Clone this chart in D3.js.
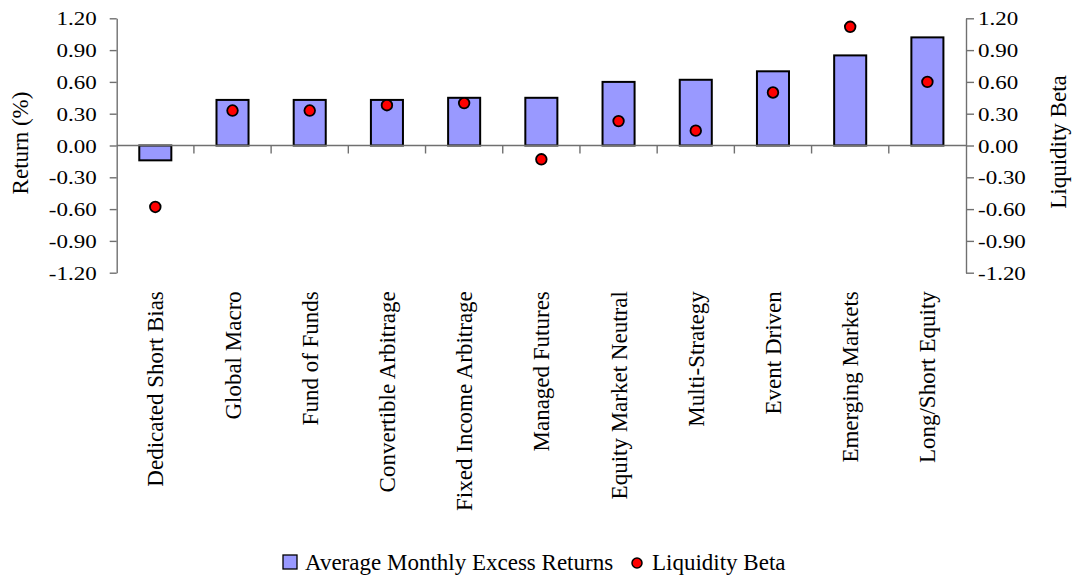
<!DOCTYPE html>
<html>
<head>
<meta charset="utf-8">
<script src="https://cdn.jsdelivr.net/npm/d3@7"></script>
<style>
  html, body { margin: 0; padding: 0; background: #fff; }
  svg { display: block; }
  text { font-family: "Liberation Serif", "Times New Roman", serif; fill: #000; }
</style>
</head>
<body>
<svg id="chart" width="1077" height="577"></svg>
<script>
// ---- data ----
const categories = [
  "Dedicated Short Bias", "Global Macro", "Fund of Funds", "Convertible Arbitrage",
  "Fixed Income Arbitrage", "Managed Futures", "Equity Market Neutral", "Multi-Strategy",
  "Event Driven", "Emerging Markets", "Long/Short Equity"
];
const excessReturns = [-0.14, 0.43, 0.43, 0.43, 0.45, 0.45, 0.60, 0.62, 0.70, 0.85, 1.02];
const liquidityBeta = [-0.58, 0.33, 0.33, 0.38, 0.40, -0.13, 0.23, 0.14, 0.50, 1.12, 0.60];
const yTicks = [-1.2, -0.9, -0.6, -0.3, 0, 0.3, 0.6, 0.9, 1.2];
const seriesNames = ["Average Monthly Excess Returns", "Liquidity Beta"];
const leftTitle = "Return (%)";
const rightTitle = "Liquidity Beta";

// ---- layout ----
const svg = d3.select("#chart");
const plot = { left: 116.7, right: 966, top: 18.3, bottom: 272.7 };
const axisColor = "#707070";
const barFill = "#9999FF";
const dotFill = "#FF0000";

const x = d3.scaleBand().domain(categories).range([plot.left, plot.right]).padding(0);
const yL = d3.scaleLinear().domain([-1.2, 1.2]).range([plot.bottom, plot.top]);
const yR = d3.scaleLinear().domain([-1.2, 1.2]).range([plot.bottom, plot.top]);
const fmt = d => d.toFixed(2);

// bars
const bw = x.bandwidth();
const barW = bw * 0.415;
svg.append("g").selectAll("rect")
  .data(categories)
  .join("rect")
  .attr("x", (c) => x(c) + (bw - barW) / 2)
  .attr("width", barW)
  .attr("y", (c, i) => yL(Math.max(0, excessReturns[i])))
  .attr("height", (c, i) => Math.abs(yL(excessReturns[i]) - yL(0)))
  .attr("fill", barFill)
  .attr("stroke", "#000")
  .attr("stroke-width", 2);

// x axis line at zero + boundary ticks
const xAxisG = svg.append("g").attr("transform", `translate(0,${yL(0)})`);
xAxisG.append("line")
  .attr("x1", plot.left).attr("x2", plot.right)
  .attr("y1", 0).attr("y2", 0)
  .attr("stroke", axisColor).attr("stroke-width", 1.4);
xAxisG.selectAll("line.bt")
  .data(categories.slice(1))
  .join("line")
  .attr("class", "bt")
  .attr("x1", c => x(c)).attr("x2", c => x(c))
  .attr("y1", 0).attr("y2", 8)
  .attr("stroke", axisColor).attr("stroke-width", 1.4);

// category labels via band axis (ticks hidden)
const catAxis = svg.append("g")
  .attr("transform", `translate(0,${plot.bottom})`)
  .call(d3.axisBottom(x).tickSize(0).tickPadding(0));
catAxis.select(".domain").remove();
catAxis.selectAll("text")
  .attr("font-size", 23)
  .attr("text-anchor", "end")
  .attr("y", 0)
  .attr("dy", "0.35em")
  .attr("transform", "translate(0,18.5) rotate(-90)");

// left axis
const leftAxis = svg.append("g")
  .attr("transform", `translate(${plot.left},0)`)
  .call(d3.axisLeft(yL).tickValues(yTicks).tickFormat(fmt).tickSize(7).tickSizeOuter(0).tickPadding(13));
leftAxis.select(".domain").attr("stroke", axisColor).attr("stroke-width", 1.4);
leftAxis.selectAll(".tick line").attr("stroke", axisColor).attr("stroke-width", 1.4);
leftAxis.selectAll("text")
  .attr("font-size", 23)
  .attr("dy", "0.34em")
  .attr("transform", "scale(1,0.85)");

// right axis
const rightAxis = svg.append("g")
  .attr("transform", `translate(${plot.right},0)`)
  .call(d3.axisRight(yR).tickValues(yTicks).tickFormat(fmt).tickSize(8).tickSizeOuter(0).tickPadding(4));
rightAxis.select(".domain").attr("stroke", axisColor).attr("stroke-width", 1.4);
rightAxis.selectAll(".tick line").attr("stroke", axisColor).attr("stroke-width", 1.4);
rightAxis.selectAll("text")
  .attr("font-size", 23)
  .attr("dy", "0.34em")
  .attr("transform", "scale(1,0.85)");

// dots
svg.append("g").selectAll("circle")
  .data(categories)
  .join("circle")
  .attr("cx", c => x(c) + bw / 2)
  .attr("cy", (c, i) => yR(liquidityBeta[i]))
  .attr("r", 5.3)
  .attr("fill", dotFill)
  .attr("stroke", "#000")
  .attr("stroke-width", 1.8);

// axis titles
svg.append("text")
  .attr("transform", `translate(28,143) rotate(-90)`)
  .attr("text-anchor", "middle")
  .attr("font-size", 23)
  .text(leftTitle);
svg.append("text")
  .attr("transform", `translate(1066,142) rotate(-90)`)
  .attr("text-anchor", "middle")
  .attr("font-size", 23)
  .text(rightTitle);

// legend
const leg = svg.append("g");
leg.append("rect")
  .attr("x", 283).attr("y", 555).attr("width", 14).attr("height", 14)
  .attr("fill", barFill).attr("stroke", "#000").attr("stroke-width", 1.3);
leg.append("text").attr("x", 305).attr("y", 570).attr("font-size", 23).text(seriesNames[0]);
leg.append("circle")
  .attr("cx", 637).attr("cy", 563).attr("r", 5)
  .attr("fill", dotFill).attr("stroke", "#000").attr("stroke-width", 1.5);
leg.append("text").attr("x", 652).attr("y", 570).attr("font-size", 23).text(seriesNames[1]);
</script>
</body>
</html>
